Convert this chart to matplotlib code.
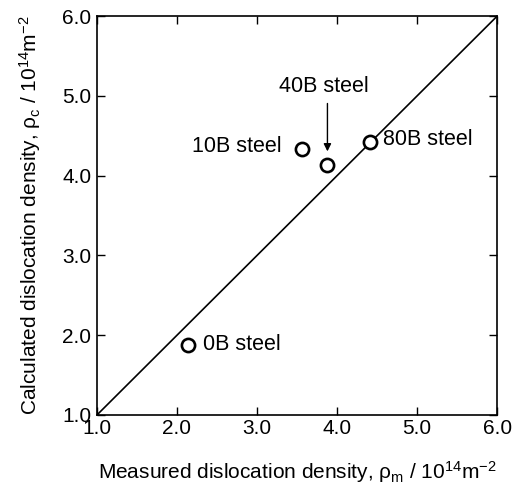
import numpy as np
import matplotlib
matplotlib.use('agg')
import matplotlib.pyplot as plt

plt.rcParams['font.family'] = ['Liberation Sans', 'DejaVu Sans']
plt.rcParams['mathtext.fontset'] = 'custom'
plt.rcParams['mathtext.rm'] = 'Liberation Sans'
plt.rcParams['mathtext.it'] = 'Liberation Sans'

# measured vs calculated dislocation density (10^14 m^-2)
steels = ['0B steel', '10B steel', '40B steel', '80B steel']
measured = [2.14, 3.56, 3.88, 4.41]
calculated = [1.88, 4.34, 4.14, 4.42]
ticks = [1.0, 2.0, 3.0, 4.0, 5.0, 6.0]

fig = plt.figure(figsize=(5.13, 4.84), dpi=100)
ax = fig.add_axes([0.189, 0.1426, 0.78, 0.824])

ax.plot([1, 6], [1, 6], color='black', lw=1.2)
ax.plot(measured, calculated, 'o', ms=9.5, mfc='white', mec='black', mew=1.9, ls='none')

# labels
fs = 15.5
ax.text(2.33, 1.88, steels[0], fontsize=fs, va='center', ha='left')
ax.text(3.31, 4.36, steels[1], fontsize=fs, va='center', ha='right')
ax.text(3.84, 5.12, steels[2], fontsize=fs, va='center', ha='center')
ax.text(4.58, 4.45, steels[3], fontsize=fs, va='center', ha='left')
ax.annotate('', xy=(3.88, 4.27), xytext=(3.88, 4.94),
            arrowprops=dict(arrowstyle='-|>', color='black', lw=1.0, mutation_scale=11))

ax.set_xlim(1, 6)
ax.set_ylim(1, 6)
ax.set_xticks(ticks)
ax.set_yticks(ticks)
ax.set_xticklabels(['%.1f' % t for t in ticks])
ax.set_yticklabels(['%.1f' % t for t in ticks])
ax.tick_params(direction='in', length=6, width=1, labelsize=15, top=True, right=True)
ax.tick_params(axis='x', pad=3)
ax.tick_params(axis='y', pad=4)
for s in ax.spines.values():
    s.set_linewidth(1.2)

ax.set_xlabel(r'Measured dislocation density, $\rho_{\rm m}$ / 10$^{14}$m$^{-2}$', fontsize=15, labelpad=15)
ax.set_ylabel(r'Calculated dislocation density, $\rho_{\rm c}$ / 10$^{14}$m$^{-2}$', fontsize=15, labelpad=14)

fig.savefig('out.png', dpi=100)
